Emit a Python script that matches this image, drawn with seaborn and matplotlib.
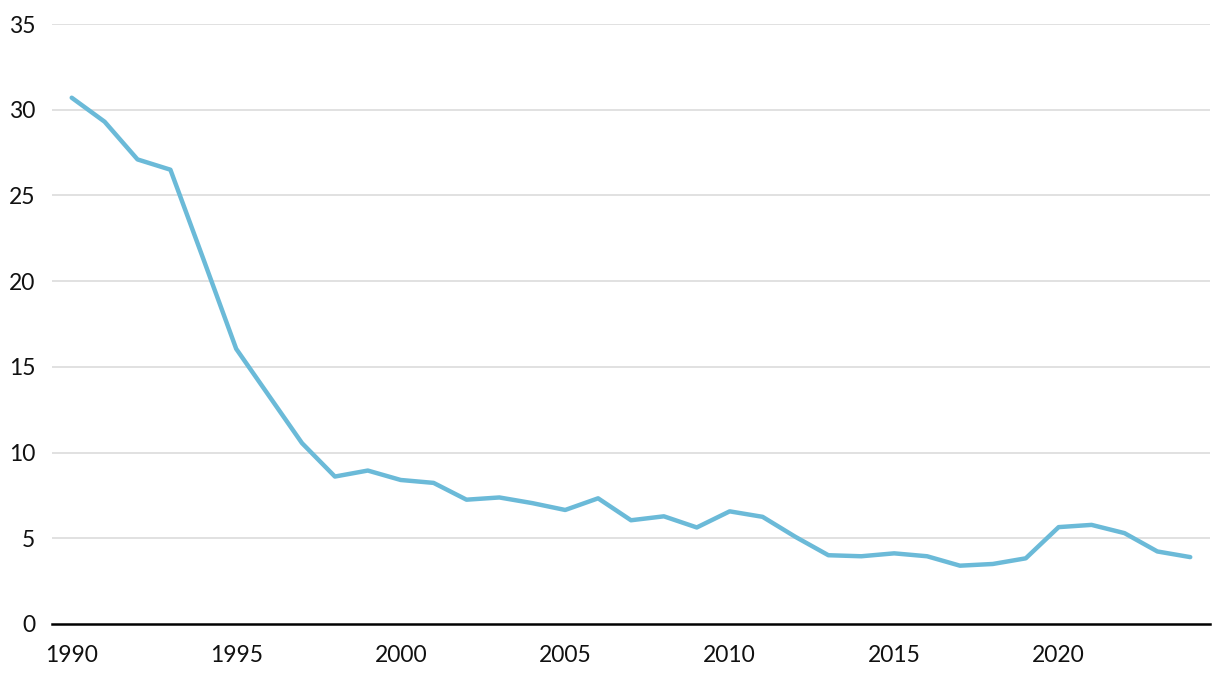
import matplotlib
matplotlib.use('Agg')
import matplotlib.pyplot as plt
import numpy as np
import pandas as pd
import seaborn as sns

# Data
years = list(range(1990, 2025))
values = [30.7, 29.3, 27.1, 26.5, 21.3, 16.05, 13.3, 10.55, 8.6, 8.95,
          8.4, 8.23, 7.25, 7.38, 7.05, 6.65, 7.33, 6.05, 6.28, 5.63,
          6.57, 6.25, 5.08, 4.01, 3.95, 4.12, 3.95, 3.4, 3.5, 3.83,
          5.65, 5.78, 5.3, 4.23, 3.9]
x_ticks = [1990, 1995, 2000, 2005, 2010, 2015, 2020]
y_ticks = [0, 5, 10, 15, 20, 25, 30, 35]

df = pd.DataFrame({'year': years, 'value': values})

sns.set_style('white')
plt.rcParams['font.family'] = ['Lato', 'DejaVu Sans']

fig = plt.figure(figsize=(12.2, 6.8), dpi=100)
ax = fig.add_axes([0.0426, 0.0824, 0.9492, 0.8823])

sns.lineplot(data=df, x='year', y='value', ax=ax, color='#6BBAD8',
             linewidth=3.2, solid_capstyle='round', solid_joinstyle='round', zorder=3)

ax.set_xlim(1989.4, 2024.6)
ax.set_ylim(0, 35)
ax.set_xticks(x_ticks)
ax.set_yticks(y_ticks)
ax.set_xticklabels([str(t) for t in x_ticks])
ax.set_yticklabels([str(t) for t in y_ticks])

# horizontal grid across the full axes width
for y in y_ticks[1:]:
    ax.axhline(y, color='#DEDEDE', linewidth=1.3, zorder=1)

for s in ['top', 'right', 'left']:
    ax.spines[s].set_visible(False)
ax.spines['bottom'].set_color('black')
ax.spines['bottom'].set_linewidth(1.8)
ax.spines['bottom'].set_zorder(4)

ax.tick_params(axis='x', length=7, width=1.8, color='black', pad=8,
               labelsize=16.5, labelcolor='#111111')
ax.tick_params(axis='y', length=0, pad=12, labelsize=16.5, labelcolor='#111111')
ax.set_xlabel('')
ax.set_ylabel('')

fig.savefig('out.png', dpi=100)
